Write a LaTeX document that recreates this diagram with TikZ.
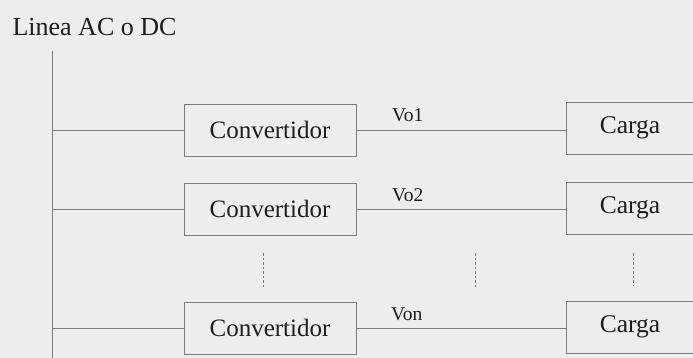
\documentclass[tikz,border=0pt]{standalone}
\usepackage{fontspec}
\setmainfont{Liberation Serif}
\definecolor{bg}{HTML}{EDEDED}
\definecolor{ln}{HTML}{7C7C7C}
\definecolor{tx}{HTML}{1E1E1E}
\begin{document}
\begin{tikzpicture}[x=1pt,y=-1pt,
  wire/.style={draw=ln,line width=0.9pt},
  convbox/.style={draw=ln,line width=0.9pt,minimum width=172pt,minimum height=52pt,inner sep=0pt,font=\fontsize{25}{28}\selectfont,text=tx},
  loadbox/.style={draw=ln,line width=0.9pt,minimum width=128pt,minimum height=52pt,inner sep=0pt,font=\fontsize{25.5}{28}\selectfont,text=tx},
  vlabel/.style={anchor=base west,inner sep=0pt,font=\fontsize{19.5}{22}\selectfont,text=tx},
  dots/.style={draw=ln,line width=0.8pt,dash pattern=on 2.5pt off 2pt}]
\fill[bg] (0,0) rectangle (693,358);
\useasboundingbox (0,0) rectangle (693,358);
\clip (0,0) rectangle (693,358);
\node[anchor=base,inner sep=0pt,font=\fontsize{26}{30}\selectfont,text=tx] (title) at (94.5,36) {Linea AC o DC};
\coordinate (bustop) at (52,51);
\coordinate (busbot) at (52,360);
\draw[wire] (bustop) -- (busbot);
\node[convbox] (c1) at (270,130) {Convertidor};
\node[convbox] (c2) at (270,209) {Convertidor};
\node[convbox] (c3) at (270,328) {Convertidor};
\node[loadbox] (l1) at (630,128) {Carga};
\node[loadbox] (l2) at (630,208) {Carga};
\node[loadbox] (l3) at (630,327) {Carga};
\coordinate (b1) at (52,130);
\coordinate (b2) at (52,209);
\coordinate (b3) at (52,328);
\draw[wire] (b1) -- (c1.west);
\draw[wire] (b2) -- (c2.west);
\draw[wire] (b3) -- (c3.west);
\draw[wire] (c1.east) -- (c1.east -| l1.west);
\draw[wire] (c2.east) -- (c2.east -| l2.west);
\draw[wire] (c3.east) -- (c3.east -| l3.west);
\node[vlabel] (v1) at (392,122) {Vo1};
\node[vlabel] (v2) at (392,201) {Vo2};
\node[vlabel] (v3) at (391,320) {Von};
\coordinate (d1a) at (263,253); \coordinate (d1b) at (263,288);
\coordinate (d2a) at (475,253); \coordinate (d2b) at (475,287);
\coordinate (d3a) at (633,253); \coordinate (d3b) at (633,285);
\draw[dots] (d1a) -- (d1b);
\draw[dots] (d2a) -- (d2b);
\draw[dots] (d3a) -- (d3b);
\end{tikzpicture}
\end{document}
